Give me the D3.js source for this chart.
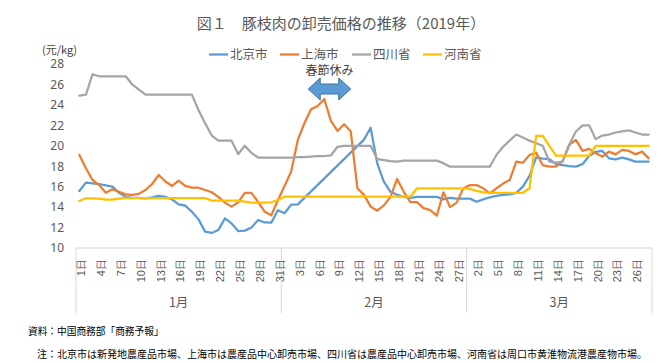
<!DOCTYPE html>
<html><head><meta charset="utf-8">
<script src="https://cdn.jsdelivr.net/npm/d3@7"></script>
<style>
html,body{margin:0;padding:0;background:#fff;}
svg{display:block;font-family:"Noto Sans CJK JP","Noto Sans",sans-serif;}
</style></head>
<body><svg id="c" width="663" height="363"></svg>
<script>
// ---- data ----
const startDate = new Date(2019, 0, 1);
const endDate = new Date(2019, 2, 29); // exclusive -> Jan 1 .. Mar 28
const dates = d3.timeDay.range(startDate, endDate);
const seriesNames = ["北京市", "上海市", "四川省", "河南省"];
const seriesColors = ["#5B9BD5", "#ED7D31", "#A5A5A5", "#FFC000"];
const beijing = [15.58,16.4,16.33,16.26,16.13,16.0,15.4,15.0,14.9,14.9,
 14.86,14.96,15.1,15.0,14.76,14.27,14.14,13.55,12.8,11.6,
 11.47,11.76,12.9,12.4,11.66,11.7,12.0,12.74,12.5,12.48,
 13.7,13.4,14.24,14.27,null,null,null,null,null,null,
 null,null,null,20.6,21.77,18.28,16.5,15.5,15.2,15.0,
 14.9,15.0,15.0,15.0,15.0,14.76,14.9,14.83,14.83,14.83,
 14.53,14.76,14.96,15.1,15.2,15.25,15.4,16.0,17.05,18.87,
 18.74,18.7,18.2,18.1,18.0,17.96,18.2,19.0,19.4,19.5,
 18.77,18.67,18.84,18.67,18.45,18.45,18.45];
const shanghai = [19.1,17.8,16.65,16.16,15.4,15.74,15.5,15.25,15.2,15.3,
 15.67,16.26,17.14,16.5,16.07,16.6,16.07,15.9,15.9,15.67,
 15.45,15.0,14.44,14.05,14.47,15.4,15.4,14.5,13.55,13.2,
 14.7,16.07,17.47,20.57,22.2,23.57,23.9,24.58,22.43,21.45,
 22.1,21.4,15.84,15.2,14.05,13.65,14.17,15.0,16.75,15.5,
 14.5,14.5,13.9,13.7,13.16,15.45,14.0,14.44,15.84,16.16,
 16.16,15.84,15.35,15.84,16.3,16.65,18.45,18.35,19.1,19.33,
 18.1,17.96,17.96,18.5,20.08,20.57,19.5,19.7,19.26,18.94,
 19.43,19.16,19.6,19.5,19.16,19.43,18.77];
const sichuan = [24.9,25.0,27.0,26.8,26.8,26.8,26.8,26.8,26.0,25.5,
 25.0,25.0,25.0,25.0,25.0,25.0,25.0,25.0,23.5,22.2,
 21.0,20.5,20.5,20.5,19.2,20.0,19.3,18.85,18.85,18.85,
 18.85,18.85,18.85,18.9,18.9,18.95,19.0,19.0,19.05,19.9,
 20.0,20.0,20.0,20.0,20.0,18.7,18.6,18.5,18.45,18.55,
 18.55,18.55,18.55,18.55,18.55,18.3,17.95,17.95,17.95,17.95,
 17.95,17.95,17.95,19.1,19.9,20.5,21.1,20.8,20.5,20.25,
 20.0,18.45,18.35,18.45,20.1,21.4,22.0,22.0,20.65,21.0,
 21.1,21.3,21.4,21.5,21.3,21.1,21.1];
const henan = [14.6,14.86,14.86,14.83,14.73,14.73,14.83,14.9,14.88,14.88,
 14.88,14.88,14.88,14.88,14.88,14.88,14.88,14.88,14.88,14.88,
 14.63,14.63,14.63,14.63,14.63,14.53,14.44,14.44,14.44,14.47,
 14.7,15.02,15.02,15.02,15.02,15.02,15.02,15.02,15.02,15.02,
 15.02,15.02,15.02,15.02,15.02,15.02,15.02,15.02,15.02,15.02,
 15.02,15.84,15.84,15.84,15.84,15.84,15.84,15.84,15.84,15.78,
 15.58,15.45,15.4,15.4,15.4,15.4,15.4,15.4,15.84,20.96,
 20.96,20.0,19.03,19.03,19.03,19.03,19.03,19.03,20.0,20.0,
 20.0,20.0,20.0,20.0,20.0,20.0,20.0];
const seriesValues = [beijing, shanghai, sichuan, henan];
const yTicks = [10,12,14,16,18,20,22,24,26,28];
const monthLabels = ["1月", "2月", "3月"];
const holidayLabel = "春節休み";
const holidayStart = new Date(2019, 1, 4);
const holidayEnd = new Date(2019, 1, 10);
const titleText = "図１　豚枝肉の卸売価格の推移（2019年）";
const unitText = "(元/kg)";
const sourceText = "資料：中国商務部「商務予報」";
const noteText = "注：北京市は新発地農産品市場、上海市は農産品中心卸売市場、四川省は農産品中心卸売市場、河南省は周口市黄淮物流港農産物市場。";

// ---- layout ----
const svg = d3.select("#c");
const L = 76, R = 652, T = 64, B = 248;
const x = d3.scalePoint().domain(d3.range(dates.length)).range([L, R]).padding(0.5);
const step = x.step();
const y = d3.scaleLinear().domain([10, 28]).range([B, T]);
const gray = "#595959", axisCol = "#D9D9D9";

// title
svg.append("text").attr("x", 341).attr("y", 29).attr("text-anchor", "middle")
  .attr("font-size", 15).attr("fill", gray).text(titleText);
svg.append("text").attr("x", 42).attr("y", 53.5).attr("font-size", 11).attr("fill", "#404040").text(unitText);

// legend
const legX = [209, 280, 352, 423];
seriesNames.forEach((n, k) => {
  const g = svg.append("g").attr("transform", `translate(${legX[k]},54.5)`);
  g.append("line").attr("x1", 0).attr("x2", 19).attr("y1", 0).attr("y2", 0)
    .attr("stroke", seriesColors[k]).attr("stroke-width", 2.25);
  g.append("text").attr("x", 21).attr("y", 4.3).attr("font-size", 12.5).attr("fill", gray).text(n);
});

// y axis labels
const yAxis = d3.axisLeft(y).tickValues(yTicks).tickSize(0).tickPadding(0);
const gy = svg.append("g").attr("transform", "translate(64,0)").call(yAxis);
gy.select(".domain").remove();
gy.selectAll("text").attr("font-size", 12).attr("fill", gray)
  .attr("font-family", "'Noto Sans','Noto Sans CJK JP',sans-serif");

// x axis line + separators
svg.append("line").attr("x1", L).attr("x2", R).attr("y1", B).attr("y2", B)
  .attr("stroke", axisCol).attr("stroke-width", 1);
const monthStartIdx = [0];
dates.forEach((d, i) => { if (i > 0 && d.getDate() === 1) monthStartIdx.push(i); });
const bounds = monthStartIdx.map(i => x(i) - step / 2).concat([x(dates.length - 1) + step / 2]);
bounds.forEach(bx => {
  svg.append("line").attr("x1", bx).attr("x2", bx).attr("y1", B).attr("y2", 313)
    .attr("stroke", axisCol).attr("stroke-width", 1);
});
// day labels
const xAxis = d3.axisBottom(x).tickValues(d3.range(0, dates.length, 3))
  .tickFormat(i => dates[i].getDate() + "日").tickSize(0);
const gx = svg.append("g").attr("transform", `translate(0,${B})`).call(xAxis);
gx.select(".domain").remove();
gx.selectAll("text").attr("font-size", 11).attr("fill", gray)
  .attr("text-anchor", "end").attr("dy", "0.35em").attr("y", 0)
  .attr("transform", "translate(1.5,11) rotate(-90)");
// month labels
monthLabels.forEach((m, k) => {
  svg.append("text").attr("x", (bounds[k] + bounds[k + 1]) / 2).attr("y", 306.5)
    .attr("text-anchor", "middle").attr("font-size", 12.5).attr("fill", gray).text(m);
});

// lines
const line = d3.line().x(d => x(d.i)).y(d => y(d.v));
seriesValues.forEach((vals, k) => {
  const pts = vals.map((v, i) => ({i, v})).filter(d => d.v !== null);
  svg.append("path").attr("d", line(pts)).attr("fill", "none")
    .attr("stroke", seriesColors[k]).attr("stroke-width", 2.25)
    .attr("stroke-linejoin", "round").attr("stroke-linecap", "round");
});

// holiday annotation
const hi0 = dates.findIndex(d => +d === +holidayStart);
const hi1 = dates.findIndex(d => +d === +holidayEnd);
const ax0 = x(hi0) + step / 2 + 0.5, ax1 = x(hi1) + step;
const cy = 89, hh = 11, sh = 5, hw = 12;
const arrow = [[ax0, cy], [ax0 + hw, cy - hh], [ax0 + hw, cy - sh], [ax1 - hw, cy - sh], [ax1 - hw, cy - hh],
  [ax1, cy], [ax1 - hw, cy + hh], [ax1 - hw, cy + sh], [ax0 + hw, cy + sh], [ax0 + hw, cy + hh]];
svg.append("path").attr("d", "M" + arrow.join("L") + "Z").attr("fill", "#5B9BD5")
  .attr("stroke", "#41719C").attr("stroke-width", 1);
svg.append("text").attr("x", (ax0 + ax1) / 2).attr("y", 75).attr("text-anchor", "middle")
  .attr("font-size", 12).attr("fill", "#404040").text(holidayLabel);

// footnotes
svg.append("text").attr("x", 28).attr("y", 335).attr("font-size", 9.7).attr("fill", "#000").text(sourceText);
svg.append("text").attr("x", 37).attr("y", 358).attr("font-size", 10).attr("fill", "#000").text(noteText);
</script></body></html>
